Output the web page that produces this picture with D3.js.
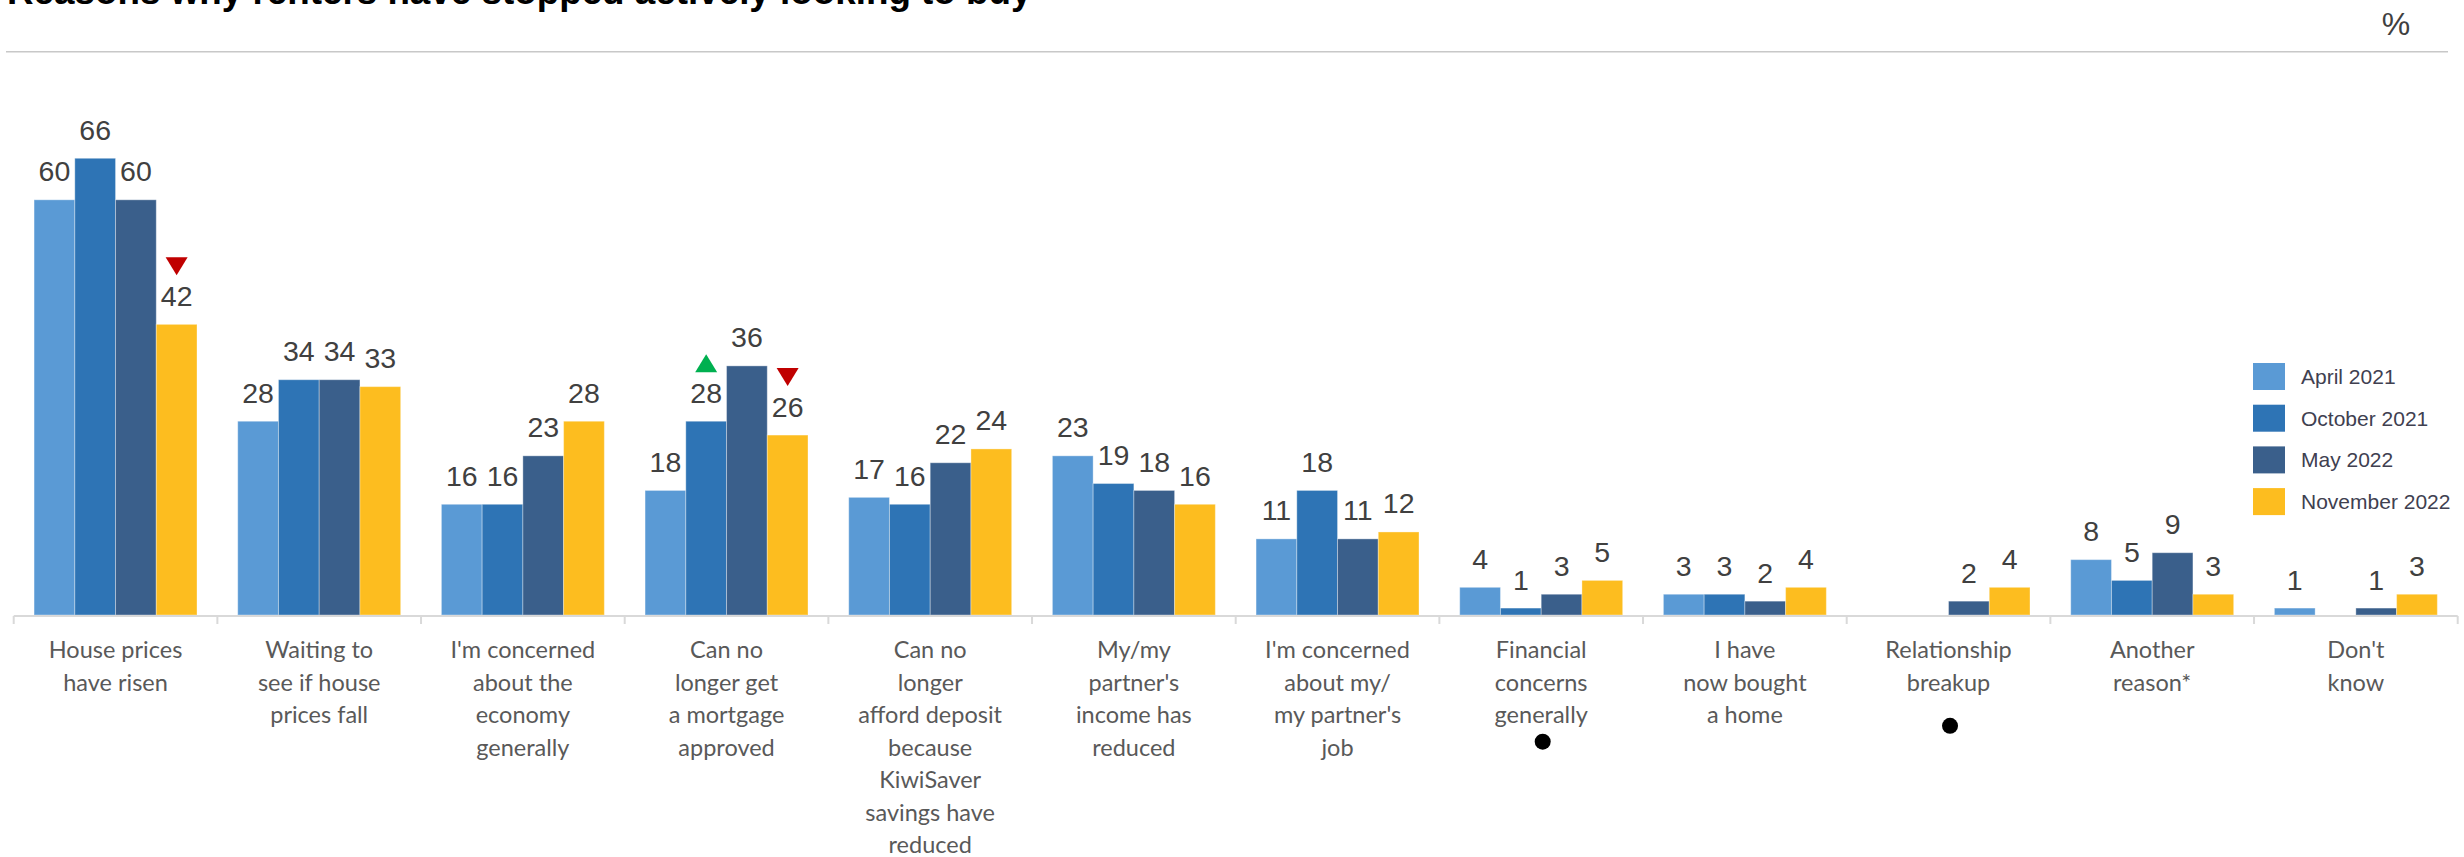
<!DOCTYPE html>
<html>
<head>
<meta charset="utf-8">
<script src="https://cdn.jsdelivr.net/npm/d3@7"></script>
<style>
  html, body { margin: 0; padding: 0; background: #fff; }
  svg { display: block; }
</style>
</head>
<body>
<svg id="chart" width="2464" height="857"></svg>
<script>
// ---- data ----
const titleText = "Reasons why renters have stopped actively looking to buy";
const unitText = "%";

const categoryLines = [
  ["House prices", "have risen"],
  ["Waiting to", "see if house", "prices fall"],
  ["I'm concerned", "about the", "economy", "generally"],
  ["Can no", "longer get", "a mortgage", "approved"],
  ["Can no", "longer", "afford deposit", "because", "KiwiSaver", "savings have", "reduced"],
  ["My/my", "partner's", "income has", "reduced"],
  ["I'm concerned", "about my/", "my partner's", "job"],
  ["Financial", "concerns", "generally"],
  ["I have", "now bought", "a home"],
  ["Relationship", "breakup"],
  ["Another", "reason*"],
  ["Don't", "know"]
];
const categories = categoryLines.map(l => l.join(" "));

const seriesNames = ["April 2021", "October 2021", "May 2022", "November 2022"];
const april2021    = [60, 28, 16, 18, 17, 23, 11, 4, 3, null, 8, 1];
const october2021  = [66, 34, 16, 28, 16, 19, 18, 1, 3, null, 5, null];
const may2022      = [60, 34, 23, 36, 22, 18, 11, 3, 2, 2, 9, 1];
const november2022 = [42, 33, 28, 26, 24, 16, 12, 5, 4, 4, 3, 3];
const seriesValues = [april2021, october2021, may2022, november2022];
const seriesColors = ["#5A9AD5", "#2E74B5", "#3A5F8B", "#FDBD1F"];

// significant changes versus the previous wave
const significantRises = [["Can no longer get a mortgage approved", "October 2021"]];
const significantFalls = [
  ["House prices have risen", "November 2022"],
  ["Can no longer get a mortgage approved", "November 2022"]
];
// categories flagged with a dot under their label
const flaggedCategories = ["Financial concerns generally", "Relationship breakup"];

// ---- layout ----
const svg = d3.select("#chart");
const baseY = 615;
const x0 = d3.scaleBand().domain(categories).range([13.7, 2457.7]).padding(0);
const x1 = d3.scaleBand().domain(seriesNames).range([0, x0.bandwidth()])
  .paddingInner(0).paddingOuter(0.5);
const y = d3.scaleLinear().domain([0, 66]).range([baseY, baseY - 66 * 6.92]);
const color = d3.scaleOrdinal().domain(seriesNames).range(seriesColors);

const rows = [];
categories.forEach((c, ci) => {
  seriesNames.forEach((s, si) => {
    const v = seriesValues[si][ci];
    if (v !== null && v !== undefined) rows.push({ cat: c, series: s, value: v });
  });
});

// title (running off the top edge) and rule
svg.append("text")
  .attr("x", 7).attr("y", 3.5)
  .attr("font-family", "'Liberation Sans', Arial, sans-serif")
  .attr("font-weight", "bold")
  .attr("font-size", 36.8)
  .attr("fill", "#000")
  .text(titleText);

svg.append("line")
  .attr("x1", 6).attr("x2", 2448).attr("y1", 51.7).attr("y2", 51.7)
  .attr("stroke", "#c8c8c8").attr("stroke-width", 1.6);

svg.append("text")
  .attr("x", 2396).attr("y", 35)
  .attr("text-anchor", "middle")
  .attr("font-family", "'Liberation Sans', Arial, sans-serif")
  .attr("font-size", 32)
  .attr("fill", "#404040")
  .text(unitText);

// bars
const bars = svg.append("g");
bars.selectAll("rect")
  .data(rows)
  .join("rect")
  .attr("x", d => x0(d.cat) + x1(d.series))
  .attr("y", d => y(d.value))
  .attr("width", x1.bandwidth())
  .attr("height", d => baseY - y(d.value))
  .attr("fill", d => color(d.series))
  .attr("stroke", "rgba(255,255,255,0.35)")
  .attr("stroke-width", 1);

// value labels
svg.append("g").selectAll("text")
  .data(rows)
  .join("text")
  .attr("x", d => x0(d.cat) + x1(d.series) + x1.bandwidth() / 2)
  .attr("y", d => y(d.value) - 18.5)
  .attr("text-anchor", "middle")
  .attr("font-family", "'Liberation Sans', Arial, sans-serif")
  .attr("font-size", 28.5)
  .attr("fill", "#404040")
  .text(d => d.value);

// significance triangles
const valueOf = (cat, series) => seriesValues[seriesNames.indexOf(series)][categories.indexOf(cat)];
const triW = 22, triH = 18;
const triangles = svg.append("g");
significantFalls.forEach(([cat, series]) => {
  const cx = x0(cat) + x1(series) + x1.bandwidth() / 2;
  const bottom = y(valueOf(cat, series)) - 49;
  triangles.append("path")
    .attr("d", `M${cx - triW / 2},${bottom - triH}L${cx + triW / 2},${bottom - triH}L${cx},${bottom}Z`)
    .attr("fill", "#C00000");
});
significantRises.forEach(([cat, series]) => {
  const cx = x0(cat) + x1(series) + x1.bandwidth() / 2;
  const bottom = y(valueOf(cat, series)) - 49;
  triangles.append("path")
    .attr("d", `M${cx - triW / 2},${bottom}L${cx + triW / 2},${bottom}L${cx},${bottom - triH}Z`)
    .attr("fill", "#00B050");
});

// category axis
const axisG = svg.append("g");
axisG.append("line")
  .attr("x1", x0.range()[0]).attr("x2", x0.range()[1])
  .attr("y1", baseY + 1).attr("y2", baseY + 1)
  .attr("stroke", "#d9d9d9").attr("stroke-width", 2);
const boundaries = categories.map(c => x0(c)).concat([x0.range()[1]]);
axisG.selectAll("line.tick")
  .data(boundaries)
  .join("line")
  .attr("class", "tick")
  .attr("x1", d => d).attr("x2", d => d)
  .attr("y1", baseY + 1).attr("y2", baseY + 9)
  .attr("stroke", "#d9d9d9").attr("stroke-width", 2);

const firstBaseline = 658.3, lineGap = 32.5;
const labels = axisG.selectAll("text.cat")
  .data(categoryLines)
  .join("text")
  .attr("class", "cat")
  .attr("text-anchor", "middle")
  .attr("font-family", "Lato, 'Open Sans', sans-serif")
  .attr("font-size", 23.5)
  .attr("fill", "#595959");
labels.each(function(lines, i) {
  const cx = x0(categories[i]) + x0.bandwidth() / 2;
  d3.select(this).selectAll("tspan")
    .data(lines)
    .join("tspan")
    .attr("x", cx)
    .attr("y", (d, j) => firstBaseline + j * lineGap)
    .text(d => d);
});

// flag dots under labels
flaggedCategories.forEach(cat => {
  const i = categories.indexOf(cat);
  const n = categoryLines[i].length;
  axisG.append("circle")
    .attr("cx", x0(cat) + x0.bandwidth() / 2 + 1.5)
    .attr("cy", firstBaseline + (n - 1) * lineGap + (n > 2 ? 18.4 : 35))
    .attr("r", 8)
    .attr("fill", "#000");
});

// legend
const legend = svg.append("g").attr("transform", "translate(2253,363)");
const item = legend.selectAll("g")
  .data(seriesNames)
  .join("g")
  .attr("transform", (d, i) => `translate(0,${i * 41.7})`);
item.append("rect")
  .attr("width", 32).attr("height", 27)
  .attr("fill", d => color(d));
item.append("text")
  .attr("x", 48).attr("y", 13.5)
  .attr("dy", "0.35em")
  .attr("font-family", "'Liberation Sans', Arial, sans-serif")
  .attr("font-size", 21)
  .attr("fill", "#404050")
  .text(d => d);
</script>
</body>
</html>
